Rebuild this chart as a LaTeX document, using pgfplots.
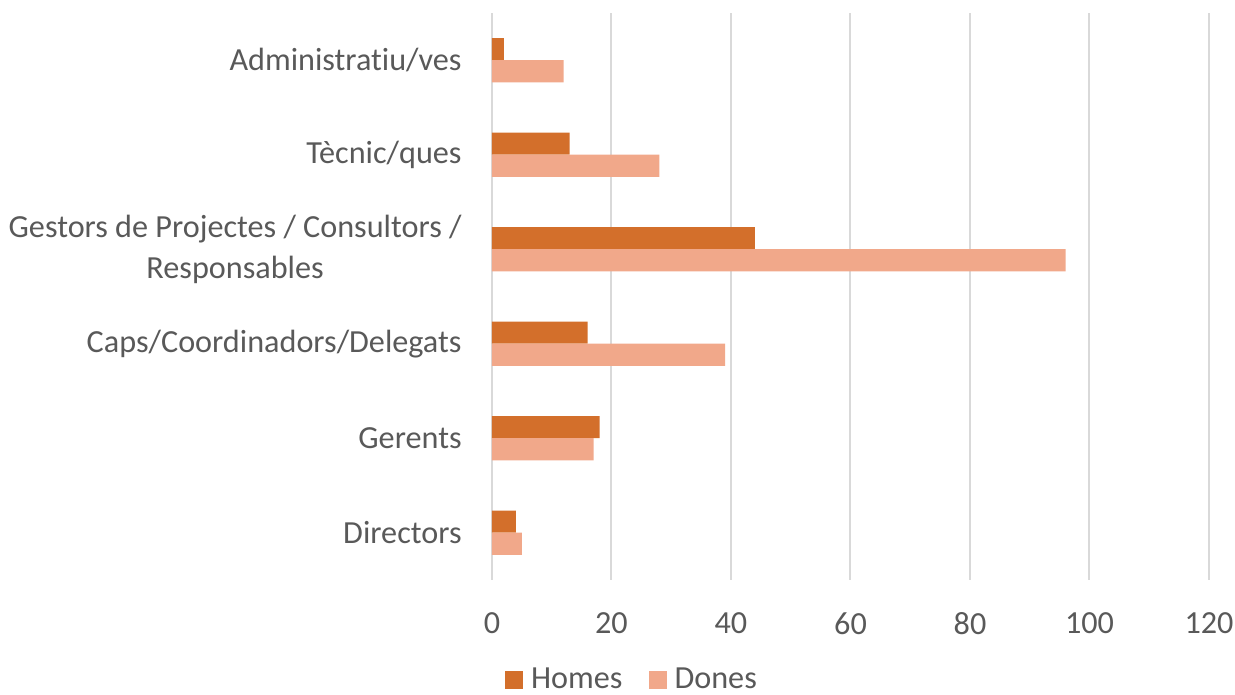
\documentclass[border=0pt]{standalone}
\usepackage{fontspec}
\setmainfont{Carlito}[Ligatures=NoCommon]
\usepackage{pgfplots}
\pgfplotsset{compat=1.18}
\definecolor{homes}{HTML}{D36F2B}
\definecolor{dones}{HTML}{F1A88A}
\definecolor{txt}{HTML}{595959}
\definecolor{gridc}{HTML}{D9D9D9}
\begin{document}
\begin{tikzpicture}
\begin{axis}[
  scale only axis, width=358.5pt, height=283.5pt,
  xmin=0, xmax=120, ymin=-0.5, ymax=5.5,
  xtick={0,20,...,120},
  ytick={0,...,5},
  yticklabels={Directors, Gerents, Caps/Coordinadors/Delegats, {Gestors de Projectes / Consultors /\\Responsables}, Tècnic/ques, Administratiu/ves},
  yticklabel style={align=center, font=\fontsize{16.1}{20.5}\selectfont, text=txt, inner sep=0pt, xshift=-15pt},
  xticklabel style={font=\fontsize{16.1}{20.5}\selectfont, text=txt, inner sep=0pt, yshift=-16pt},
  /pgf/number format/assume math mode=true,
  axis line style={draw=none},
  major tick length=0pt,
  xmajorgrids, ymajorgrids=false,
  grid style={draw=gridc, line width=1pt},
  legend style={at={(0.1967,-0.176)}, anchor=center, draw=none, fill=none,
    font=\fontsize{16.1}{20.5}\selectfont, text=txt, legend columns=2,
    /tikz/every even column/.append style={column sep=11pt}},
  legend image code/.code={\fill[#1] (0pt,-4.5pt) rectangle (9pt,4.5pt);},
]
\addplot[xbar, bar width=0.233, bar shift=0.1165, fill=homes, draw=none]
  coordinates {(4,0) (18,1) (16,2) (44,3) (13,4) (2,5)};
\addlegendentry{\hspace{2pt}Homes}
\addplot[xbar, bar width=0.233, bar shift=-0.1165, fill=dones, draw=none]
  coordinates {(5,0) (17,1) (39,2) (96,3) (28,4) (12,5)};
\addlegendentry{\hspace{2pt}Dones}
\coordinate (bl) at (rel axis cs:-0.68619,-0.20282);
\coordinate (tr) at (rel axis cs:1.03626,1.02293);
\end{axis}
\pgfresetboundingbox
\path[use as bounding box] (bl) rectangle (tr);
\end{tikzpicture}
\end{document}
